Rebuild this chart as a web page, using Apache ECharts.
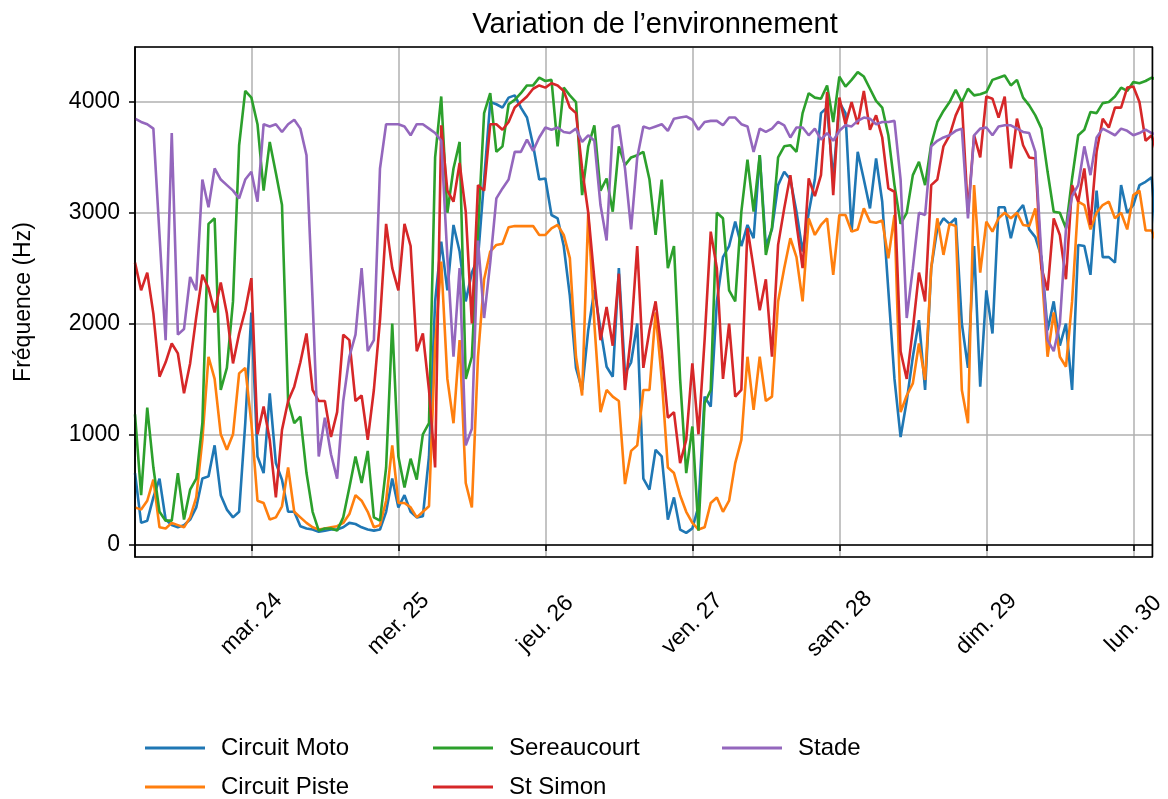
<!DOCTYPE html>
<html>
<head>
<meta charset="utf-8">
<script src="https://cdn.jsdelivr.net/npm/echarts@6/dist/echarts.min.js"></script>
<style>
  html, body { margin: 0; padding: 0; background: #fff; }
  #chart { width: 1168px; height: 799px; }
</style>
</head>
<body>
<div id="chart"></div>
<script>
// hourly readings, first one at 23 March 2020 05:00
var startTime = new Date(2020, 2, 23, 5, 0, 0).getTime();
var HOUR = 3600000;
var DAY = 24 * HOUR;

var dayNames = ["dim.", "lun.", "mar.", "mer.", "jeu.", "ven.", "sam."];
var seriesNames = ["Circuit Moto", "Circuit Piste", "Sereaucourt", "St Simon", "Stade"];
var seriesColors = ["#1f77b4", "#ff7f0e", "#2ca02c", "#d62728", "#9467bd"];

var circuitMoto = [650,200,220,430,600,230,180,160,180,230,
  340,600,620,900,450,320,250,300,1100,2100,
  800,650,1370,740,590,300,300,170,150,140,
  120,130,140,140,160,200,190,160,140,130,
  140,300,600,340,450,300,250,260,800,2200,
  2740,2300,2890,2650,2200,2460,2590,3300,4000,3980,
  3950,4040,4060,3950,3860,3610,3300,3310,2980,2950,
  2700,2250,1600,1400,1940,2300,1950,1610,1520,2500,
  1550,1650,2000,600,500,860,800,230,430,140,
  110,150,350,1340,1250,2200,2600,2700,2920,2700,
  2890,2770,3520,2700,2850,3250,3370,3300,3010,2650,
  3000,3300,3900,3950,3300,4000,3900,2830,3550,3300,
  3040,3490,3100,2300,1500,975,1300,1700,2030,1400,
  2500,2860,2950,2900,2950,2000,1600,2700,1430,2300,
  1910,3050,3050,2770,3000,3070,2850,2780,2600,1940,
  2200,1800,2000,1400,2710,2700,2440,3200,2600,2600,
  2550,3250,3000,3070,3250,3280,3320,2600];

var circuitPiste = [340,320,400,590,160,150,200,180,160,250,
  430,950,1700,1500,1000,860,1000,1550,1600,1100,
  400,380,230,250,350,700,300,250,200,160,
  140,150,160,170,200,280,450,400,300,160,
  180,400,900,380,380,340,250,300,350,1800,
  2560,1500,1100,1850,560,340,1700,2400,2650,2710,
  2720,2870,2880,2880,2880,2880,2800,2800,2860,2890,
  2800,2590,1700,1350,3000,2000,1200,1400,1340,1300,
  550,850,900,1400,1400,2100,1500,700,650,450,
  300,200,140,160,380,430,300,400,740,950,
  1700,1220,1700,1300,1340,2200,2500,2770,2600,2200,
  2950,2800,2890,2950,2440,2980,2980,2830,2850,3040,
  2920,2910,2930,2590,2980,1200,1350,1460,1820,1490,
  2500,2950,2620,2900,2880,1400,1100,3250,2460,2920,
  2830,2950,3000,2950,3000,2890,2880,3040,2500,1700,
  2100,1700,1610,2200,3100,3070,2850,3000,3070,3100,
  2950,3000,2850,3160,3200,2840,2840,2700];

var sereaucourt = [1180,450,1240,700,300,220,220,650,230,500,
  600,1100,2900,2950,1400,1600,2200,3610,4100,4040,
  3800,3200,3640,3360,3070,1300,1100,1160,650,300,
  130,150,150,130,250,520,800,560,850,250,
  220,700,2000,800,520,780,590,1000,1100,3500,
  4050,3000,3400,3640,1500,1700,2830,3900,4080,3550,
  3600,3980,4020,4080,4150,4150,4220,4190,4200,3600,
  4130,4060,4000,3160,3600,3790,3200,3310,3010,3600,
  3430,3500,3520,3550,3300,2800,3300,2500,2700,1500,
  650,1070,130,1280,1400,3000,2950,2300,2200,3010,
  3480,3010,3520,2620,2870,3500,3600,3610,3550,3900,
  4080,4040,4030,4150,3820,4230,4140,4200,4270,4230,
  4120,4010,3950,3700,3250,2900,3000,3340,3460,3250,
  3620,3820,3920,4000,4110,4000,4120,4060,4070,4090,
  4200,4220,4240,4150,4200,4040,3970,3880,3760,3370,
  3010,3000,2860,3310,3700,3750,3910,3900,3990,4000,
  4050,4130,4100,4180,4170,4190,4220,4200];

var stSimon = [2550,2300,2460,2090,1520,1650,1820,1730,1370,1640,
  2060,2440,2320,2100,2370,2090,1640,1910,2120,2410,
  1000,1250,950,430,1040,1300,1430,1650,1910,1400,
  1300,1300,975,1200,1900,1850,1300,1350,950,1400,
  2030,2900,2500,2300,2900,2700,1750,1910,1400,700,
  3790,3200,3100,3450,3010,2000,3250,3200,3800,3800,
  3750,3820,3950,4000,4050,4120,4150,4130,4170,4150,
  4100,3950,3900,3400,3000,2400,1850,2150,1800,2450,
  1400,1900,2700,1600,1940,2200,1750,1150,1200,740,
  950,1640,1000,1850,2830,2500,1500,2000,1340,1400,
  2860,2500,2120,2400,1700,2710,3040,3340,2900,2500,
  3310,3150,3340,4090,3160,4040,3800,4000,3800,4100,
  3750,3880,3680,3220,3190,1750,1500,1950,2460,2200,
  3250,3300,3600,3700,3880,4000,3000,3700,3500,4050,
  4030,3860,4050,3400,3850,3610,3500,3490,2500,2300,
  2950,2800,2400,3250,3100,3400,2890,3550,3850,3770,
  3950,3950,4130,4140,4000,3650,3700,3500];

var stade = [3850,3820,3800,3760,2800,1850,3720,1900,1950,2420,
  2300,3300,3050,3400,3300,3250,3200,3130,3300,3370,
  3100,3800,3780,3800,3730,3800,3840,3760,3520,2200,
  800,1150,820,600,1300,1700,1900,2500,1750,1850,
  3400,3800,3800,3800,3780,3700,3800,3800,3760,3720,
  3650,2600,1700,2500,900,1050,2750,2050,2550,3130,
  3220,3300,3550,3550,3660,3560,3680,3770,3750,3770,
  3730,3720,3760,3640,3700,3650,3070,2750,3770,3790,
  3400,2850,3500,3780,3760,3780,3800,3740,3850,3860,
  3870,3840,3750,3820,3830,3830,3790,3860,3860,3800,
  3780,3550,3760,3730,3760,3820,3790,3680,3770,3770,
  3700,3760,3660,3720,3650,3740,3790,3780,3830,3860,
  3850,3800,3820,3820,3830,3300,2050,2500,3000,2980,
  3600,3650,3680,3700,3740,3760,2950,3700,3760,3770,
  3700,3780,3790,3790,3760,3730,3720,3550,2600,1850,
  1750,2000,2850,3150,3250,3600,3340,3680,3760,3730,
  3700,3760,3740,3700,3720,3750,3720,3700];

var allValues = [circuitMoto, circuitPiste, sereaucourt, stSimon, stade];

function toPoints(values) {
  return values.map(function (v, i) { return [startTime + i * HOUR, v]; });
}

var FONT = "Liberation Sans";

var option = {
  animation: false,
  backgroundColor: "#fff",
  textStyle: { fontFamily: FONT, color: "#000" },
  title: {
    text: "Variation de l\u2019environnement",
    left: 650,
    top: 5,
    textAlign: "center",
    textStyle: { fontFamily: FONT, fontSize: 29, fontWeight: "normal", color: "#000" }
  },
  grid: {
    left: 135, right: 10, top: 47, bottom: 242, z: 5,
    show: true, borderColor: "#000", borderWidth: 1.5
  },
  legend: [
    { data: ["Circuit Moto", "Circuit Piste"], left: 145 },
    { data: ["Sereaucourt", "St Simon"], left: 433 },
    { data: ["Stade"], left: 722 }
  ].map(function (l) {
    return {
      data: l.data, left: l.left, top: 736, orient: "vertical", padding: 0,
      icon: "rect", itemWidth: 60, itemHeight: 3, itemGap: 15,
      textStyle: { fontFamily: FONT, fontSize: 24, color: "#000", padding: [0, 0, 0, 11] }
    };
  }),
  xAxis: {
    type: "time",
    min: startTime,
    max: startTime + 166.1 * HOUR,
    minInterval: DAY,
    maxInterval: DAY,
    axisLine: { lineStyle: { color: "#000", width: 1.5 } },
    axisTick: { show: true, length: 6, lineStyle: { color: "#000", width: 1.5 } },
    splitLine: { show: true, lineStyle: { color: "#b0b0b0", width: 1.5 } },
    axisLabel: {
      rotate: 45, margin: 67, align: "center", verticalAlign: "middle",
      fontSize: 23, color: "#000", fontFamily: FONT,
      showMinLabel: false, showMaxLabel: false,
      formatter: function (v) {
        var d = new Date(v);
        return dayNames[d.getDay()] + " " + d.getDate();
      }
    }
  },
  yAxis: {
    type: "value",
    min: -108,
    max: 4497,
    splitNumber: 5,
    name: "Fréquence (Hz)",
    nameLocation: "middle",
    nameGap: 100,
    nameTextStyle: { fontFamily: FONT, fontSize: 23, color: "#000" },
    axisLine: { show: true, lineStyle: { color: "#000", width: 1.5 } },
    axisTick: { show: true, length: 6, lineStyle: { color: "#000", width: 1.5 } },
    splitLine: { show: true, lineStyle: { color: "#b0b0b0", width: 1.5 } },
    axisLabel: {
      margin: 15, fontSize: 23, color: "#000", fontFamily: FONT,
      showMinLabel: false, showMaxLabel: false,
      formatter: function (v) { return String(v); }
    }
  },
  series: seriesNames.map(function (name, k) {
    return {
      name: name,
      type: "line",
      data: toPoints(allValues[k]),
      showSymbol: false,
      color: seriesColors[k],
      lineStyle: { color: seriesColors[k], width: 2.6 },
      emphasis: { disabled: true }
    };
  })
};

var chart = echarts.init(document.getElementById("chart"));
chart.setOption(option);
</script>
</body>
</html>
